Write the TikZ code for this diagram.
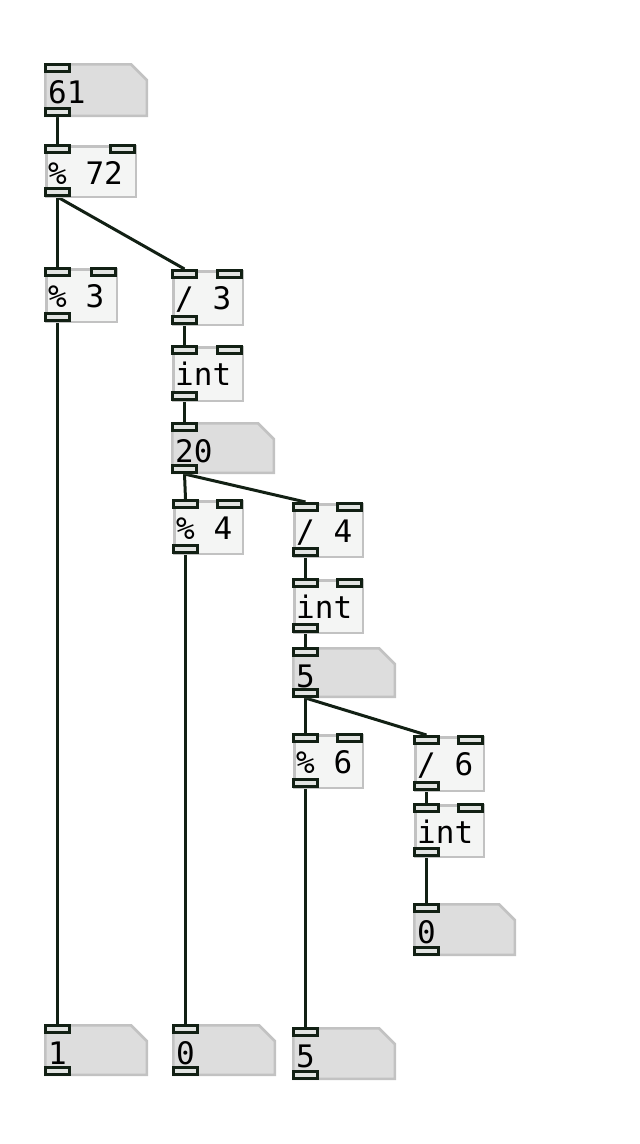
\documentclass[tikz,border=0pt]{standalone}
\usepackage{fontspec}
\newfontfamily\pdfont{DejaVu Sans Mono}
\usetikzlibrary{calc}
\pgfdeclarelayer{bg}
\pgfdeclarelayer{wires}
\pgfsetlayers{bg,wires,main}
\definecolor{wirec}{HTML}{122014}
\definecolor{iofill}{HTML}{E2E4E2}
\definecolor{boxline}{HTML}{C2C2C2}
\definecolor{objfill}{HTML}{F4F5F4}
\definecolor{numfill}{HTML}{DDDDDD}
\tikzset{
  objbox/.style={draw=boxline, fill=objfill, line width=2.5pt, inner sep=0pt},
  numarea/.style={inner sep=0pt, outer sep=0pt},
  numbox/.style={draw=boxline, fill=numfill, line width=2.5pt, line join=miter},
  iolet/.style={draw=wirec, fill=iofill, line width=3pt, minimum width=24pt, minimum height=7pt, inner sep=0pt},
  lbl/.style={inner sep=0pt, font=\pdfont\fontsize{31}{31}\selectfont, text=black},
  wire/.style={draw=wirec, line width=3pt},
}
\newcommand\pdobj[6]{%
  \node[objbox, minimum width={#4-#2-2.5}, minimum height={#5-#3-2.5}, anchor=north west] (#1) at (#2+1.25,#3+1.25) {};
  \node[lbl, anchor=base west] (#1-t) at (#2+4,#3+40) {#6};
  \node[iolet, anchor=north west] (#1-i1) at (#2,#3) {};
  \node[iolet, anchor=north east] (#1-i2) at (#4,#3) {};
  \node[iolet, anchor=south west] (#1-o) at (#2,#5) {};
}
\newcommand\pdnum[6]{%
  \node[numarea, minimum width={#4-#2}, minimum height={#5-#3}, anchor=north west] (#1) at (#2,#3) {};
  \filldraw[numbox] ($(#1.north west)+(1.25,1.25)$) -- ($(#1.north east)+(-17,1.25)$) -- ($(#1.north east)+(-1.25,17)$) -- ($(#1.south east)+(-1.25,-1.25)$) -- ($(#1.south west)+(1.25,-1.25)$) -- cycle;
  \node[lbl, anchor=base west] (#1-t) at (#2+4,#3+40) {#6};
  \node[iolet, anchor=north west] (#1-i1) at (#2,#3) {};
  \node[iolet, anchor=south west] (#1-o) at (#2,#5) {};
}
\begin{document}
\begin{tikzpicture}[x=1pt, y=-1pt]
\useasboundingbox (0,0) rectangle (640,1144);
\begin{pgfonlayer}{bg}
\fill[white] (0,0) rectangle (640,1144);
\end{pgfonlayer}
% boxes
\pdnum{n61}{44}{63}{148}{117}{61}
\pdobj{m72}{44}{144}{136}{197}{\% 72}
\pdobj{m3}{44}{267}{117}{322}{\% 3}
\pdobj{d3}{171}{269}{243}{325}{/ 3}
\pdobj{int1}{171}{345}{243}{401}{int}
\pdnum{n20}{171}{422}{275}{474}{20}
\pdobj{m4}{172}{499}{243}{554}{\% 4}
\pdobj{d4}{292}{502}{363}{557}{/ 4}
\pdobj{int2}{292}{578}{363}{633}{int}
\pdnum{n5}{292}{647}{396}{698}{5}
\pdobj{m6}{292}{733}{363}{788}{\% 6}
\pdobj{d6}{413}{735}{484}{791}{/ 6}
\pdobj{int3}{413}{803}{484}{857}{int}
\pdnum{n0a}{413}{903}{516}{956}{0}
\pdnum{n1}{44}{1024}{148}{1076}{1}
\pdnum{n0b}{172}{1024}{276}{1076}{0}
\pdnum{n5b}{292}{1027}{396}{1080}{5}
% wires
\begin{pgfonlayer}{wires}
\draw[wire] (n61-o.south) -- (m72-i1.north);
\draw[wire] (m72-o.south) -- (m3-i1.north);
\draw[wire] (m72-o.south) -- (d3-i1.north);
\draw[wire] (m3-o.south) -- (n1-i1.north);
\draw[wire] (d3-o.south) -- (int1-i1.north);
\draw[wire] (int1-o.south) -- (n20-i1.north);
\draw[wire] (n20-o.south) -- (m4-i1.north);
\draw[wire] (n20-o.south) -- (d4-i1.north);
\draw[wire] (m4-o.south) -- (n0b-i1.north);
\draw[wire] (d4-o.south) -- (int2-i1.north);
\draw[wire] (int2-o.south) -- (n5-i1.north);
\draw[wire] (n5-o.south) -- (m6-i1.north);
\draw[wire] (n5-o.south) -- (d6-i1.north);
\draw[wire] (m6-o.south) -- (n5b-i1.north);
\draw[wire] (d6-o.south) -- (int3-i1.north);
\draw[wire] (int3-o.south) -- (n0a-i1.north);
\end{pgfonlayer}
\end{tikzpicture}
\end{document}
